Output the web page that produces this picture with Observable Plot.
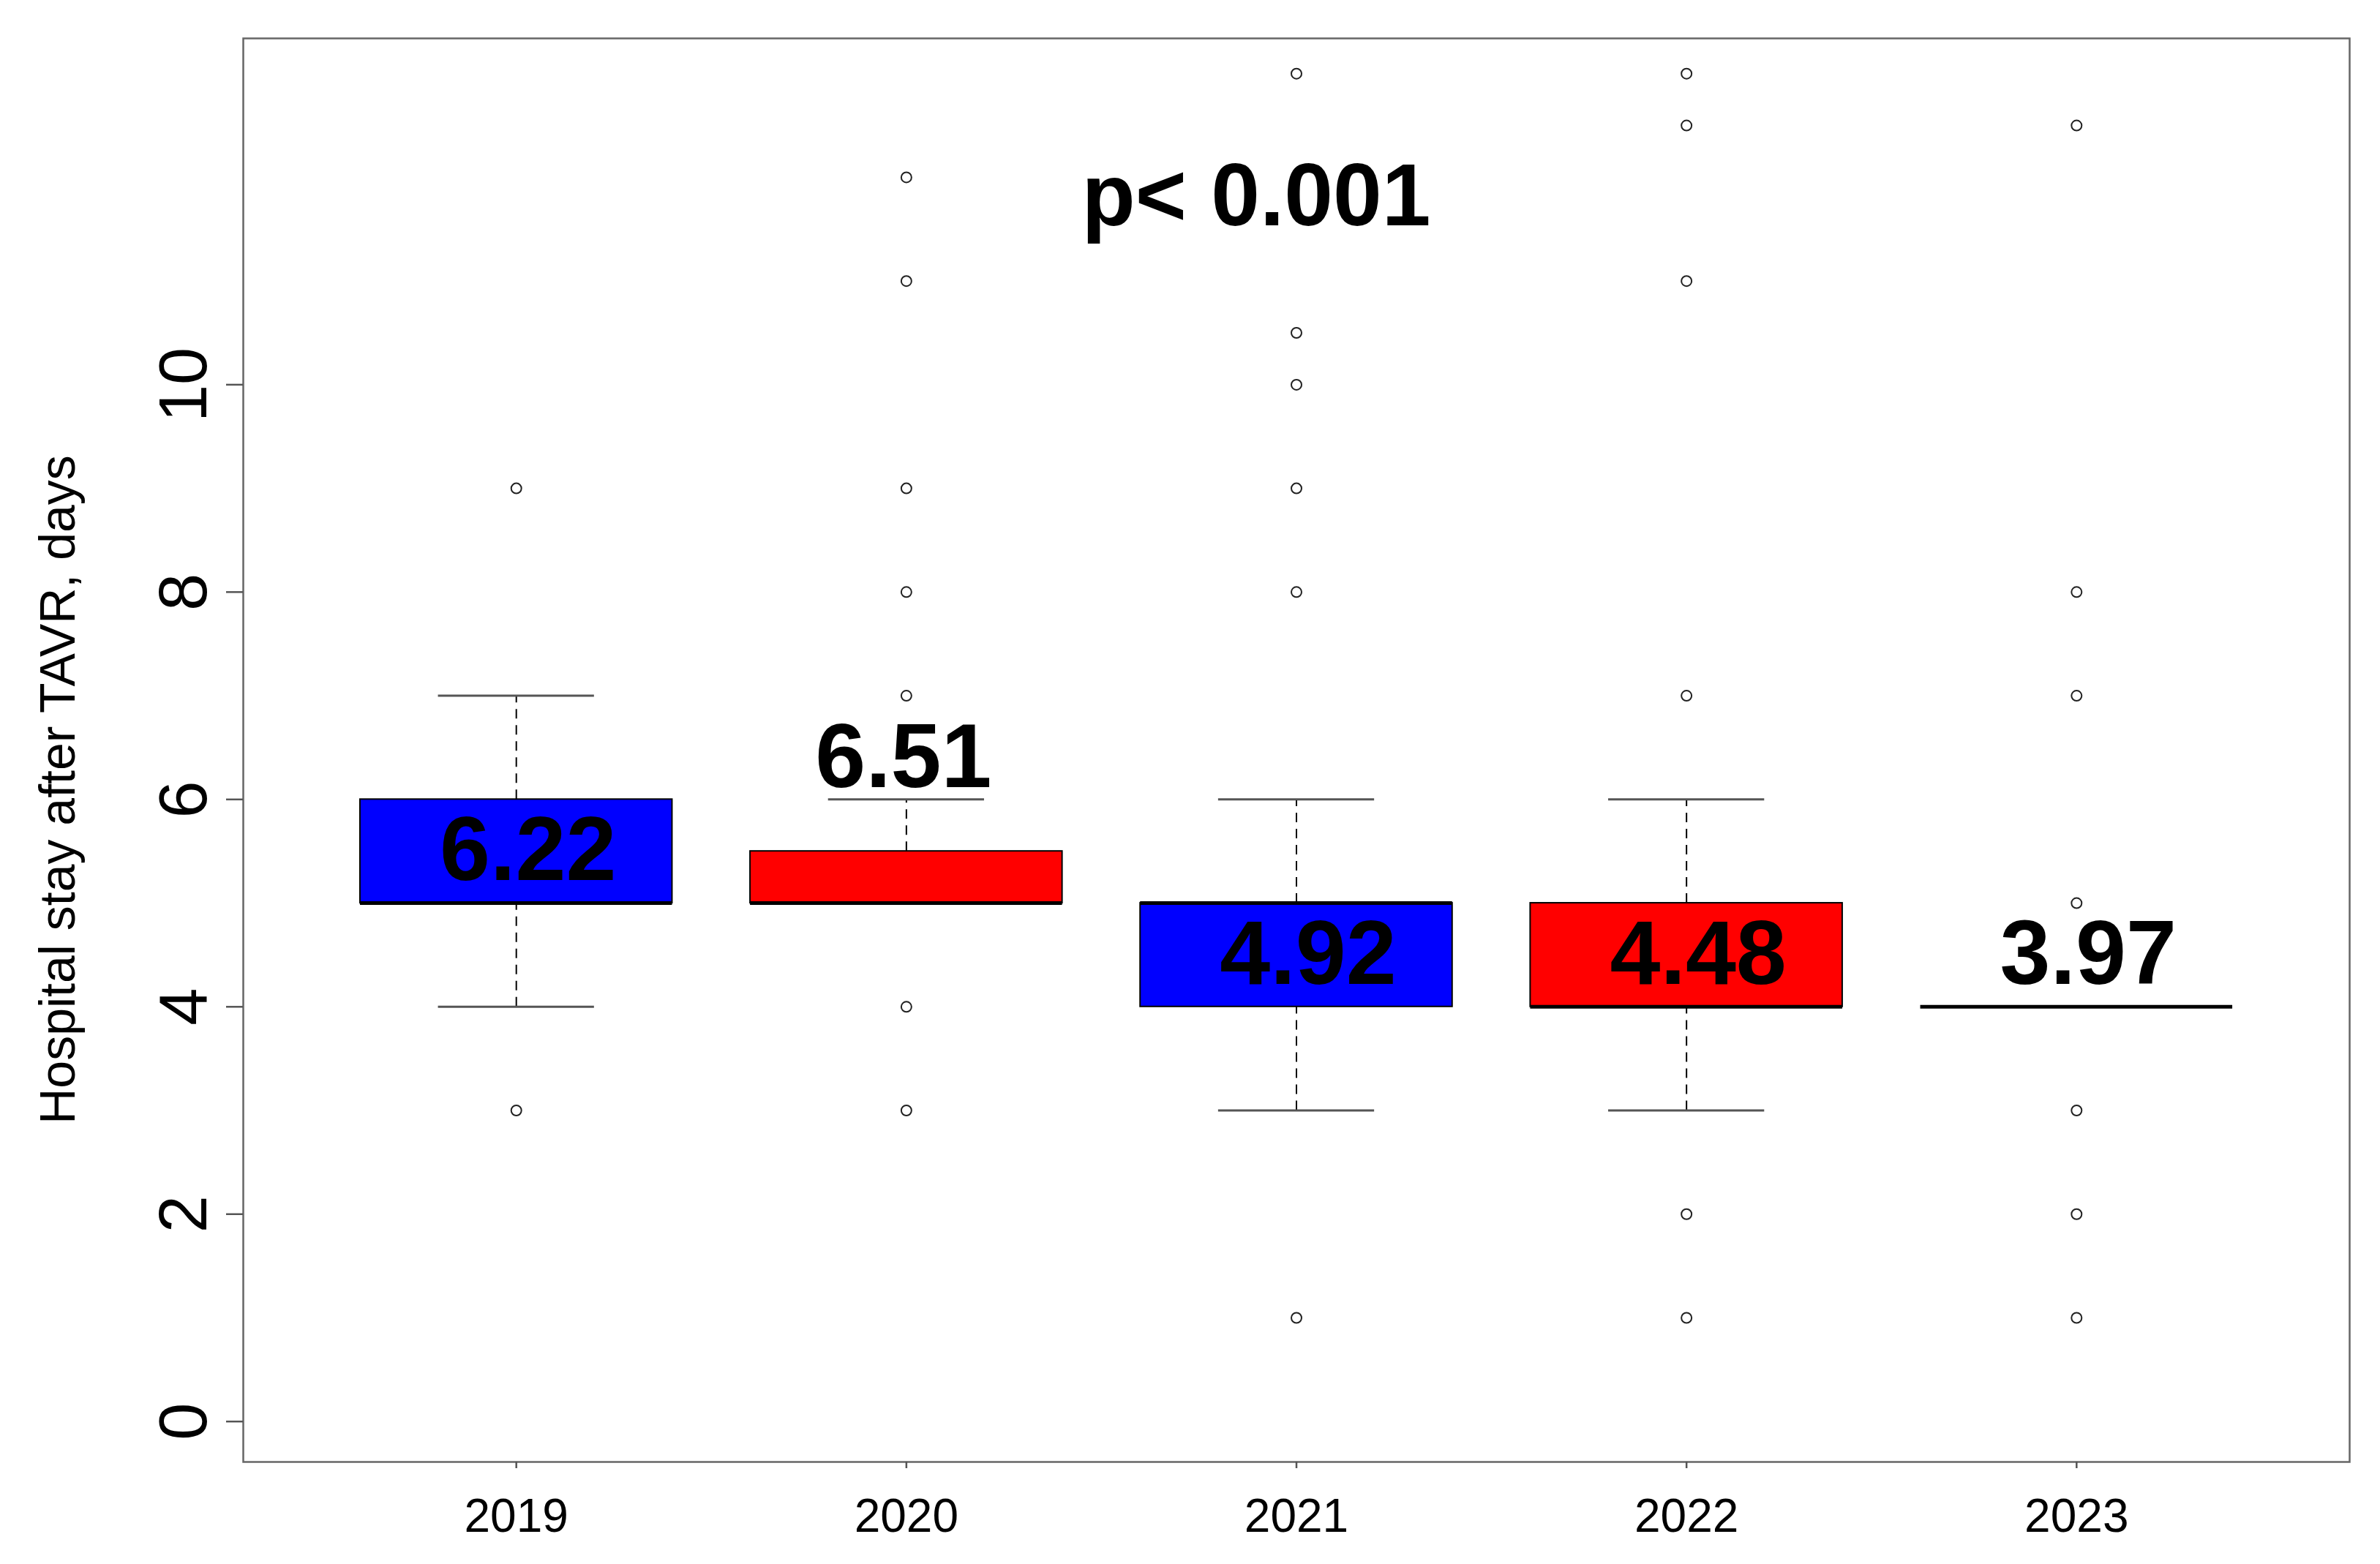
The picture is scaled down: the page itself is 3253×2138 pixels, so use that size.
<!DOCTYPE html>
<html>
<head>
<meta charset="utf-8">
<script src="https://cdn.jsdelivr.net/npm/d3@7"></script>
<script src="https://cdn.jsdelivr.net/npm/@observablehq/plot@0.6"></script>
<style>
  html, body { margin: 0; padding: 0; background: #fff; }
  #chart svg { display: block; }
</style>
</head>
<body>
<div id="chart"></div>
<script>
// ---- data ----
const years = ["2019", "2020", "2021", "2022", "2023"];
const q1 = [5, 5, 4, 4, 4];
const q3 = [6, 5.5, 5, 5, 4];
const medians = [5, 5, 5, 4, 4];
const whiskerLow = [4, 5, 3, 3, 4];
const whiskerHigh = [7, 6, 6, 6, 4];
const meanLabels = ["6.22", "6.51", "4.92", "4.48", "3.97"];
const outliers2019 = [9, 3];
const outliers2020 = [12, 11, 9, 8, 7, 4, 3];
const outliers2021 = [13, 10.5, 10, 9, 8, 1];
const outliers2022 = [13, 12.5, 11, 7, 2, 1];
const outliers2023 = [12.5, 8, 7, 5, 3, 2, 1];
const yTicks = [0, 2, 4, 6, 8, 10];
const yTitle = "Hospital stay after TAVR, days";
const pText = "p< 0.001";

// ---- derived tables ----
const outlierLists = [outliers2019, outliers2020, outliers2021, outliers2022, outliers2023];
const boxes = years.map((year, i) => ({
  year, pos: i + 1, q1: q1[i], q3: q3[i], med: medians[i],
  lo: whiskerLow[i], hi: whiskerHigh[i], mean: meanLabels[i]
}));
const outlierRows = outlierLists.flatMap((vals, i) => vals.map(v => ({pos: i + 1, value: v})));
const boxFill = d => (d.pos % 2 === 1 ? "#0000ff" : "#ff0000");
// a label sits inside a tall box, above a flat box's median, or above the whisker of a short box
const insideBox = d => d.q3 - d.q1 >= 1 || d.q3 === d.q1;
const labelY = d => (d.q3 - d.q1 >= 1 ? (d.q1 + d.q3) / 2 : d.q3 === d.q1 ? d.med + 0.5 : d.hi + 0.4);

const font = "'Liberation Sans', Arial, Helvetica, sans-serif";

const chart = Plot.plot({
  width: 3253,
  height: 2138,
  marginLeft: 332,
  marginRight: 42,
  marginTop: 52,
  marginBottom: 140,
  x: {domain: [0.3, 5.7], axis: null},
  y: {domain: [-0.39, 13.34], axis: null},
  style: {fontFamily: font, background: "#fff", color: "#000", overflow: "visible"},
  marks: [
    Plot.frame({stroke: "#666", strokeWidth: 2.5}),
    Plot.axisY({ticks: yTicks, tickSize: 23, tickFormat: () => "", stroke: "#555", strokeWidth: 2.5, label: null}),
    Plot.text(yTicks, {y: d => d, text: d => String(d), frameAnchor: "left", textAnchor: "middle",
      dx: -80, rotate: -90, fontSize: 92, fill: "#000"}),
    Plot.axisX({ticks: [1, 2, 3, 4, 5], tickSize: 9, tickPadding: 41, tickFormat: i => years[i - 1],
      fontSize: 64, stroke: "#555", strokeWidth: 2.5, fill: "#000", label: null}),
    Plot.text([yTitle], {frameAnchor: "left", textAnchor: "middle", dx: -252, dy: 54, rotate: -90, fontSize: 68, fill: "#000"}),
    // whiskers
    Plot.ruleX(boxes.filter(d => d.hi > d.q3), {x: "pos", y1: "q3", y2: "hi", stroke: "#000", strokeWidth: 2, strokeDasharray: "13,9"}),
    Plot.ruleX(boxes.filter(d => d.lo < d.q1), {x: "pos", y1: "lo", y2: "q1", stroke: "#000", strokeWidth: 2, strokeDasharray: "13,9"}),
    // staples
    Plot.ruleY(boxes, {x1: d => d.pos - 0.2, x2: d => d.pos + 0.2, y: "hi", stroke: "#555", strokeWidth: 3}),
    Plot.ruleY(boxes, {x1: d => d.pos - 0.2, x2: d => d.pos + 0.2, y: "lo", stroke: "#555", strokeWidth: 3}),
    // boxes
    Plot.rect(boxes.filter(d => d.q3 > d.q1), {x1: d => d.pos - 0.4, x2: d => d.pos + 0.4, y1: "q1", y2: "q3",
      fill: boxFill, stroke: "#000", strokeWidth: 2}),
    // medians
    Plot.ruleY(boxes, {x1: d => d.pos - 0.4, x2: d => d.pos + 0.4, y: "med", stroke: "#000", strokeWidth: 5}),
    // outliers
    Plot.dot(outlierRows, {x: "pos", y: "value", r: 7, stroke: "#222", strokeWidth: 2, fill: "none"}),
    // mean labels
    Plot.text(boxes.filter(insideBox), {x: "pos", y: labelY, text: "mean", dx: 16, fontSize: 124, fontWeight: "bold", fill: "#000"}),
    Plot.text(boxes.filter(d => !insideBox(d)), {x: "pos", y: labelY, text: "mean", dx: -4, fontSize: 124, fontWeight: "bold", fill: "#000"}),
    // p value
    Plot.text([pText], {frameAnchor: "top", lineAnchor: "top", dx: -55, dy: 170, fontSize: 120, fontWeight: "bold", fill: "#000"})
  ]
});
document.getElementById("chart").appendChild(chart);
</script>
</body>
</html>
